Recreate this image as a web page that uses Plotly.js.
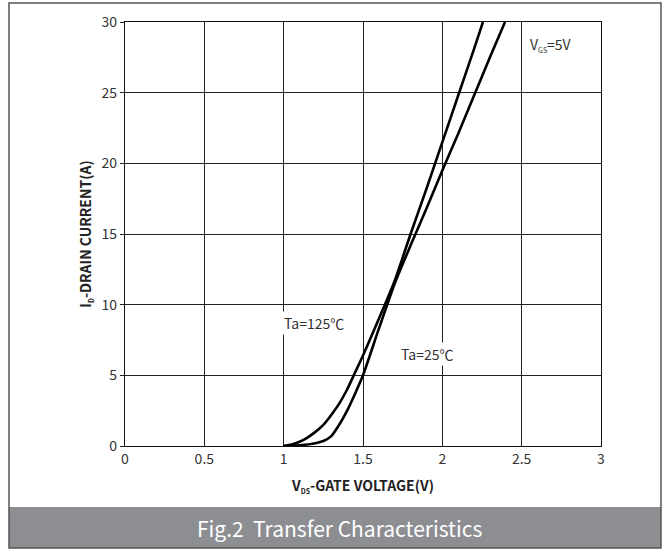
<!DOCTYPE html>
<html>
<head>
<meta charset="utf-8">
<script src="https://cdn.plot.ly/plotly-3.0.1.min.js"></script>
<style>
html,body{margin:0;padding:0;background:#fff;}
#chart{width:671px;height:551px;}
</style>
</head>
<body>
<div id="chart"></div>
<script>
// Gate voltage (V) and drain current (A)
var vgs125 = [1.0, 1.05, 1.1, 1.15, 1.2, 1.25, 1.3, 1.35, 1.4, 1.45, 1.5, 1.6, 1.7, 1.8, 1.9, 2.0, 2.1, 2.2, 2.256];
var id125  = [0, 0.1, 0.3, 0.6, 1.0, 1.5, 2.2, 3.0, 4.0, 5.2, 6.4, 9.0, 11.7, 15.0, 18.2, 21.5, 24.8, 28.1, 30];
var vgs25  = [1.0, 1.1, 1.2, 1.25, 1.3, 1.35, 1.4, 1.45, 1.5, 1.6, 1.7, 1.8, 1.9, 2.0, 2.1, 2.2, 2.3, 2.395];
var id25   = [0, 0.05, 0.2, 0.35, 0.7, 1.5, 2.5, 3.7, 5.0, 8.3, 11.5, 14.2, 16.8, 19.5, 22.1, 24.8, 27.5, 30];
var xTicks = [0, 0.5, 1, 1.5, 2, 2.5, 3];
var xTickText = ["0", "0.5", "1", "1.5", "2", "2.5", "3"];
var yTicks = [0, 5, 10, 15, 20, 25, 30];

var FONT = '"Noto Sans CJK SC", "Noto Sans", sans-serif';
var lineStyle = {color: '#000', width: 2.6, shape: 'spline', smoothing: 0.6};

var traces = [
  {x: vgs125, y: id125, mode: 'lines', line: lineStyle, hoverinfo: 'skip', name: 'Ta=125℃'},
  {x: vgs25, y: id25, mode: 'lines', line: lineStyle, hoverinfo: 'skip', name: 'Ta=25℃'}
];

var labelFont = {family: FONT, size: 14, color: '#333'};
function sub(t) { return '<sub><span style="font-size:7px">' + t + '</span></sub>'; }

var layout = {
  width: 671, height: 551,
  margin: {l: 125, r: 70, t: 22, b: 105, pad: 0},
  paper_bgcolor: '#fff', plot_bgcolor: '#fff',
  showlegend: false,
  font: {family: FONT, size: 14, color: '#333'},
  xaxis: {
    range: [0, 3], tickvals: xTicks, ticktext: xTickText,
    showgrid: true, gridcolor: '#222', gridwidth: 1,
    showline: true, linecolor: '#111', linewidth: 1.2, mirror: true,
    zeroline: false, ticks: '', ticklen: 0,
    tickfont: {family: FONT, size: 14, color: '#333'},
    title: {text: '<b>V' + sub('DS') + '-GATE VOLTAGE(V)</b>', font: {family: FONT, size: 14, color: '#222'}, standoff: 14}
  },
  yaxis: {
    range: [0, 30], tickvals: yTicks,
    showgrid: true, gridcolor: '#222', gridwidth: 1,
    showline: true, linecolor: '#111', linewidth: 1.2, mirror: true,
    zeroline: false, ticks: 'outside', ticklen: 4, tickcolor: '#222',
    tickfont: {family: FONT, size: 14, color: '#333'},
    title: {text: '<b>I' + sub('D') + '-DRAIN CURRENT(A)</b>', font: {family: FONT, size: 14, color: '#222'}, standoff: 6}
  },
  shapes: [
    {type: 'rect', xref: 'paper', yref: 'paper', x0: -0.2437, x1: 1.126, y0: -0.1439, y1: -0.2406,
     fillcolor: '#8d8e92', line: {width: 0}, layer: 'below'},
    {type: 'rect', xref: 'paper', yref: 'paper', x0: -0.2437, x1: 1.126, y0: -0.2406, y1: 1.0448,
     fillcolor: 'rgba(0,0,0,0)', line: {color: '#555', width: 1.5}}
  ],
  annotations: [
    {x: 0.99, y: 8.7, xref: 'x', yref: 'y', text: 'Ta=125℃', showarrow: false, xanchor: 'left', yanchor: 'middle',
     font: labelFont, bgcolor: '#fff', borderpad: 1},
    {x: 1.73, y: 6.5, xref: 'x', yref: 'y', text: 'Ta=25℃', showarrow: false, xanchor: 'left', yanchor: 'middle',
     font: labelFont, bgcolor: '#fff', borderpad: 1},
    {x: 2.54, y: 28.4, xref: 'x', yref: 'y', text: 'V' + sub('GS') + '=5V', showarrow: false, xanchor: 'left', yanchor: 'middle',
     font: labelFont, bgcolor: '#fff', borderpad: 1},
    {x: 0.45, y: -0.1923, xref: 'paper', yref: 'paper', text: 'Fig.2  Transfer Characteristics', showarrow: false,
     xanchor: 'center', yanchor: 'middle', font: {family: FONT, size: 21, color: '#fff'}}
  ]
};

Plotly.newPlot('chart', traces, layout, {staticPlot: true, displayModeBar: false});
</script>
</body>
</html>
